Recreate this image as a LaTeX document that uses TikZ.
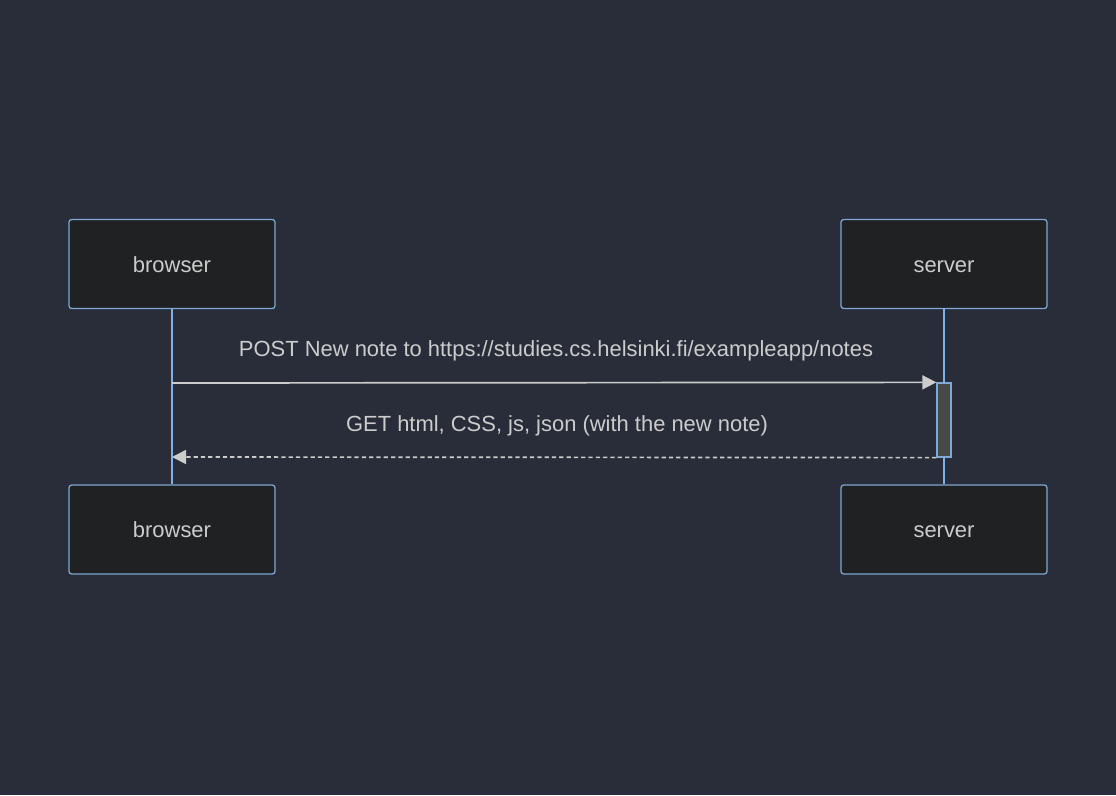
\documentclass[tikz,border=0pt]{standalone}
\usepackage{fontspec}
\setmainfont{Liberation Sans}
\usetikzlibrary{arrows.meta}
\definecolor{bg}{HTML}{282D39}
\definecolor{boxfill}{HTML}{202122}
\definecolor{boxline}{HTML}{7FA8D4}
\definecolor{life}{HTML}{80B0E4}
\definecolor{txt}{HTML}{CCCCCC}
\definecolor{actfill}{HTML}{474949}
\tikzset{actor/.style={
    draw=boxline, fill=boxfill, rounded corners=2pt, line width=0.9pt,
    minimum width=5.15cm, minimum height=2.225cm, text=txt,
    text height=15pt, text depth=3.2pt,
    font=\fontsize{15.6}{18}\selectfont},
  msg/.style={draw=txt, line width=1.2pt,
    -{Triangle[length=10pt,width=10pt]}},
  lbl/.style={text=txt, font=\fontsize{15.6}{18}\selectfont}}

\begin{document}
\begin{tikzpicture}[x=0.025cm,y=-0.025cm]
  % fond
\fill[bg] (0,0) rectangle (1116,795);
\useasboundingbox (0,0) rectangle (1116,795);

  % acteurs
\node[actor] (b1) at (172,264) {browser};
\node[actor] (s1) at (944,264) {server};
\node[actor] (b2) at (172,529.5) {browser};
\node[actor] (s2) at (944,529.5) {server};

  % lignes de vie
\draw[life, line width=2pt] (b1) -- (b2);
\draw[life, line width=2pt] (s1) -- (s2);

  % activation
\node[draw=boxline, fill=actfill, line width=0.9pt, inner sep=0pt,
  minimum width=0.35cm, minimum height=1.85cm] (act) at (944,420) {};

  % messages
\coordinate (p1) at (172,383);
\coordinate (p2) at (172,457);
\draw[msg] (p1) -- (act.north west);
\draw[msg, dash pattern=on 3pt off 2.2pt] (act.south west) -- (p2);

\node[lbl] (m1) at (556,351) {POST New note to https://studies.cs.helsinki.fi/exampleapp/notes};
\node[lbl] (m2) at (557,426) {GET html, CSS, js, json (with the new note)};
\end{tikzpicture}
\end{document}
